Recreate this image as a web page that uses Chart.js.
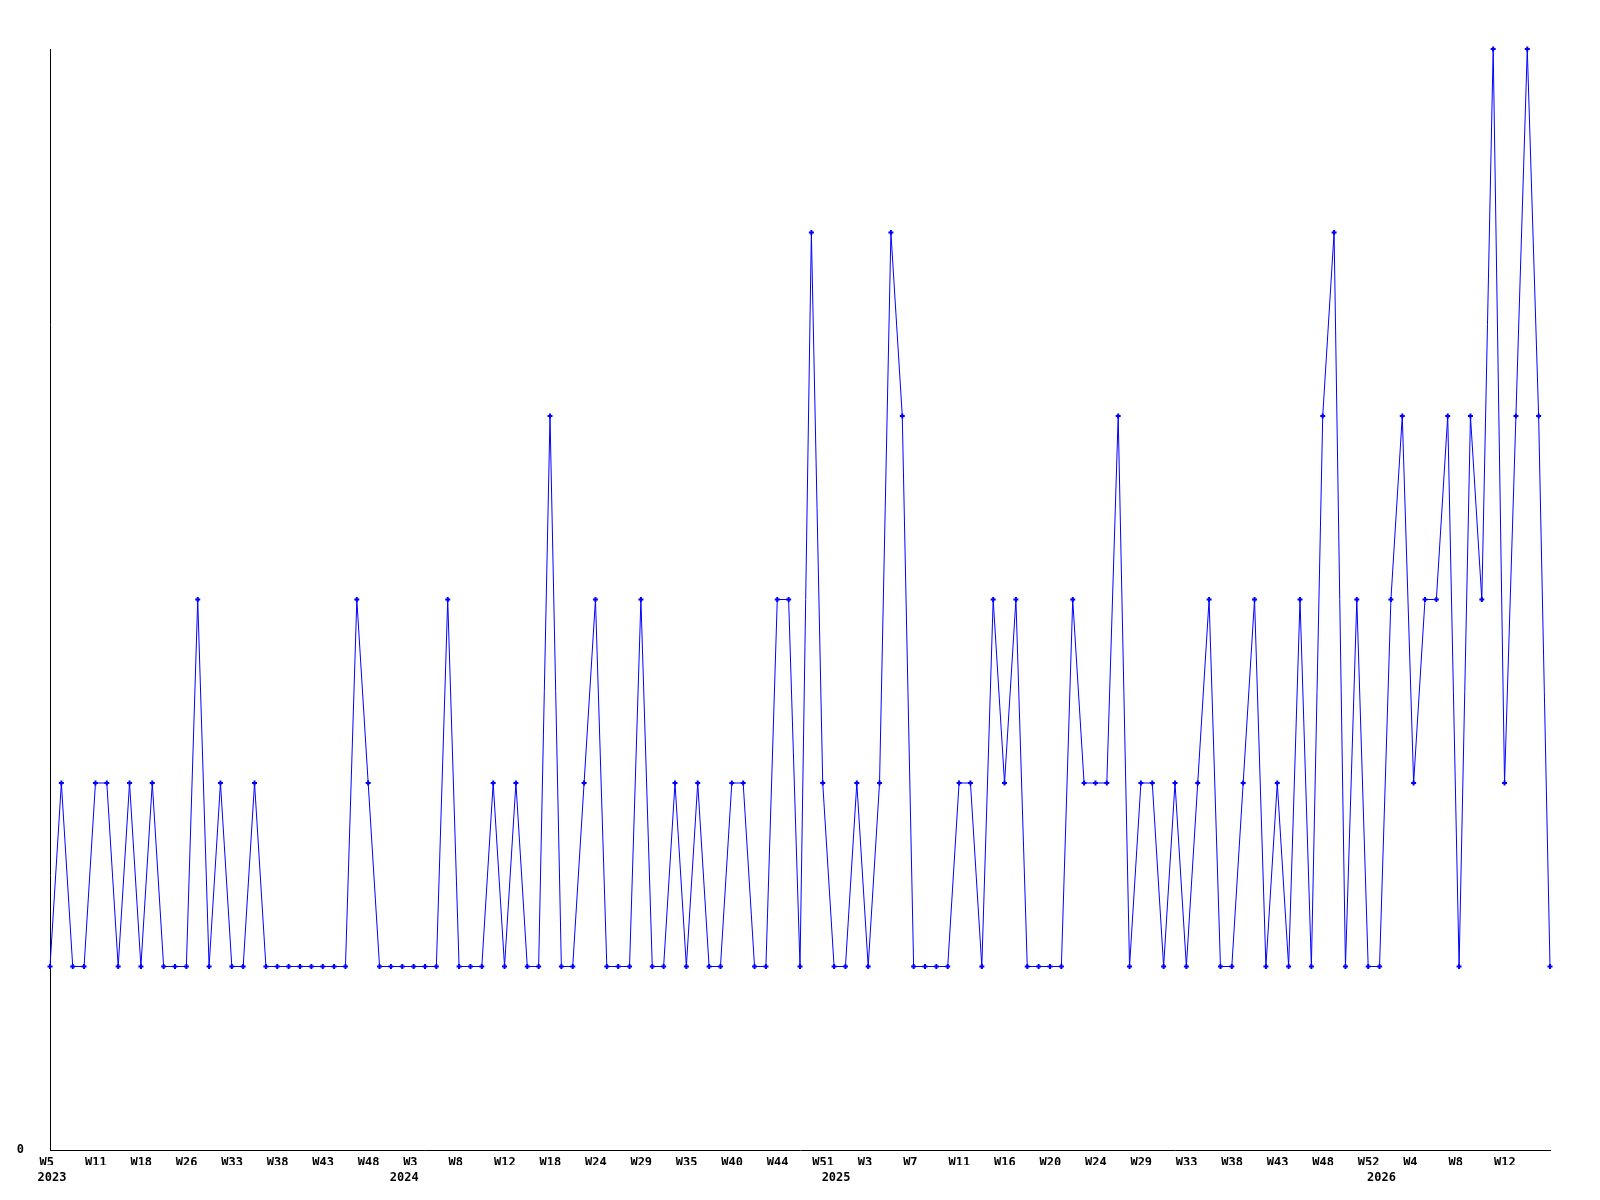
<!DOCTYPE html>
<html>
<head>
<meta charset="utf-8">
<script src="https://cdn.jsdelivr.net/npm/chart.js@4"></script>
<style>
  html, body { margin: 0; padding: 0; background: #fff; }
  canvas { display: block; }
</style>
</head>
<body>
<canvas id="chart" width="1600" height="1200"></canvas>
<script>
// Values per data point
const counts = [
    1, 2, 1, 1, 2, 2, 1, 2, 1, 2, 1, 1, 1, 3, 1, 2, 1, 1, 2, 1,
    1, 1, 1, 1, 1, 1, 1, 3, 2, 1, 1, 1, 1, 1, 1, 3, 1, 1, 1, 2,
    1, 2, 1, 1, 4, 1, 1, 2, 3, 1, 1, 1, 3, 1, 1, 2, 1, 2, 1, 1,
    2, 2, 1, 1, 3, 3, 1, 5, 2, 1, 1, 2, 1, 2, 5, 4, 1, 1, 1, 1,
    2, 2, 1, 3, 2, 3, 1, 1, 1, 1, 3, 2, 2, 2, 4, 1, 2, 2, 1, 2,
    1, 2, 3, 1, 1, 2, 3, 1, 2, 1, 3, 1, 4, 5, 1, 3, 1, 1, 3, 4,
    2, 3, 3, 4, 1, 4, 3, 6, 2, 4, 6, 4, 1
];

// Week labels shown on every 4th point
const weekLabels = [
    'W5', 'W11', 'W18', 'W26', 'W33', 'W38', 'W43', 'W48', 'W3', 'W8', 'W12',
    'W18', 'W24', 'W29', 'W35', 'W40', 'W44', 'W51', 'W3', 'W7', 'W11', 'W16',
    'W20', 'W24', 'W29', 'W33', 'W38', 'W43', 'W48', 'W52', 'W4', 'W8', 'W12'
];
const labelStep = 4;

// Year labels, keyed by the first point of each year
const yearLabels = { 0: '2023', 31: '2024', 69: '2025', 117: '2026' };

// Build category label lists
const weekCats = counts.map((v, i) => {
    const k = i / labelStep;
    return (i % labelStep === 0 && k < weekLabels.length) ? weekLabels[k] : '';
});
const yearCats = counts.map((v, i) => yearLabels[i] || '');

const tickFont = { family: 'DejaVu Sans Mono', size: 12, weight: 'bold', lineHeight: 1.25 };

const ctx = document.getElementById('chart').getContext('2d');

new Chart(ctx, {
    type: 'line',
    data: {
        labels: weekCats,
        datasets: [{
            data: counts,
            borderColor: '#0000ff',
            backgroundColor: '#0000ff',
            borderWidth: 1,
            tension: 0,
            fill: false,
            pointStyle: 'cross',
            pointRadius: 2.5,
            pointBorderWidth: 2,
            pointHoverRadius: 2.5,
            clip: false
        }]
    },
    options: {
        responsive: false,
        animation: false,
        layout: {
            padding: { top: 49, right: 50, left: 0, bottom: 0 }
        },
        plugins: {
            legend: { display: false },
            tooltip: { enabled: false }
        },
        scales: {
            x: {
                type: 'category',
                weight: 0,
                offset: false,
                grid: { display: false, drawTicks: false },
                border: { display: true, color: '#000', width: 1 },
                ticks: {
                    autoSkip: false,
                    maxRotation: 0,
                    minRotation: 0,
                    align: 'start',
                    labelOffset: -10.5,
                    padding: 5,
                    color: '#000',
                    font: tickFont
                },
                afterFit: (scale) => { scale.height = 15; }
            },
            x2: {
                type: 'category',
                labels: yearCats,
                position: 'bottom',
                weight: 1,
                offset: false,
                grid: { display: false, drawTicks: false },
                border: { display: false },
                ticks: {
                    autoSkip: false,
                    maxRotation: 0,
                    minRotation: 0,
                    labelOffset: 2,
                    padding: 5,
                    color: '#000',
                    font: tickFont
                },
                afterFit: (scale) => { scale.height = 35; }
            },
            y: {
                min: 0,
                max: 6,
                grid: { display: false, drawTicks: false },
                border: { display: true, color: '#000', width: 1 },
                ticks: {
                    stepSize: 1,
                    padding: 26,
                    color: '#000',
                    font: tickFont,
                    callback: (value) => value === 0 ? '0' : ''
                },
                afterFit: (scale) => { scale.width = 50; }
            }
        }
    }
});
</script>
</body>
</html>
